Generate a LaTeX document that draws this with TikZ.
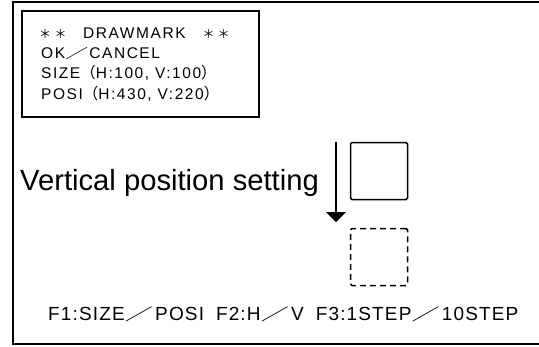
\documentclass[tikz,border=0pt]{standalone}
\usepackage{graphicx}
\usepackage{fontspec}
\setmainfont{Liberation Sans}
\newfontfamily\jp{Noto Sans CJK JP}
\newfontfamily\lat[LetterSpace=10]{Liberation Sans}
\newfontfamily\latb[LetterSpace=6]{Liberation Sans}
\newcommand{\fw}[1]{{\jp #1}}
\newcommand{\fsl}{\scalebox{1.5}[0.85]{\jp ／}}
\newcommand{\sast}{\makebox[14pt]{\fontsize{12}{14}\jp ＊}}
\usetikzlibrary{arrows.meta}
\begin{document}
\begin{tikzpicture}[x=1pt,y=-1pt,
  frame/.style={draw=black,line width=2pt},
  panel/.style={draw=black,line width=1.3pt},
  markbox/.style={draw=black,line width=1.5pt,rounded corners=1.5pt,minimum width=57pt,minimum height=57pt,inner sep=0pt},
  ghostbox/.style={markbox,dash pattern=on 6pt off 4pt},
  jptext/.style={font=\lat\fontsize{15.5}{17}\selectfont,anchor=base west,inner sep=0pt},
  fktext/.style={font=\latb\fontsize{19}{21}\selectfont,anchor=base west,inner sep=0pt},
  big/.style={font=\fontsize{29.2}{32}\selectfont,anchor=west,inner sep=0pt},
  arr/.style={line width=1.6pt,-{Triangle[width=20pt,length=10pt]}}]
\useasboundingbox (0,0) rectangle (539,346);
\fill[white] (0,0) rectangle (539,346);
% outer frame (right side runs off the picture)
\draw[frame] (545,2) -- (13,2) -- (13,344) -- (545,344);
% status panel
\node[panel,minimum width=237pt,minimum height=106pt,inner sep=0pt] (panel) at (140.5,64) {};
\node[jptext] (t1) at (38,38.5) {\sast\hspace{1.5pt}\sast\hspace{15.5pt}DRAWMARK\hspace{16pt}\sast\hspace{1pt}\sast};
\node[jptext] (t2) at (41,58.5) {OK\fsl\hspace{1pt}CANCEL};
\node[jptext] (t3) at (41,78.5) {SIZE\fw{（}H:100, V:100\fw{）}};
\node[jptext] (t4) at (41,99) {POSI\fw{（}H:430, V:220\fw{）}};
% label
\node[big] (lbl) at (20,183) {Vertical position setting};
% squares
\node[markbox] (sq1) at (379,171) {};
\node[ghostbox] (sq2) at (379,257) {};
% arrow
\coordinate (a1) at (336,142);
\coordinate (a2) at (336,222);
\draw[arr] (a1) -- (a2);
% function keys
\node[fktext] (fk) at (48,320) {F1:SIZE\fsl\hspace{2pt}POSI\hspace{12pt}F2:H\fsl\hspace{2pt}V\hspace{12pt}F3:1STEP\fsl\hspace{2pt}10STEP};
\end{tikzpicture}
\end{document}
